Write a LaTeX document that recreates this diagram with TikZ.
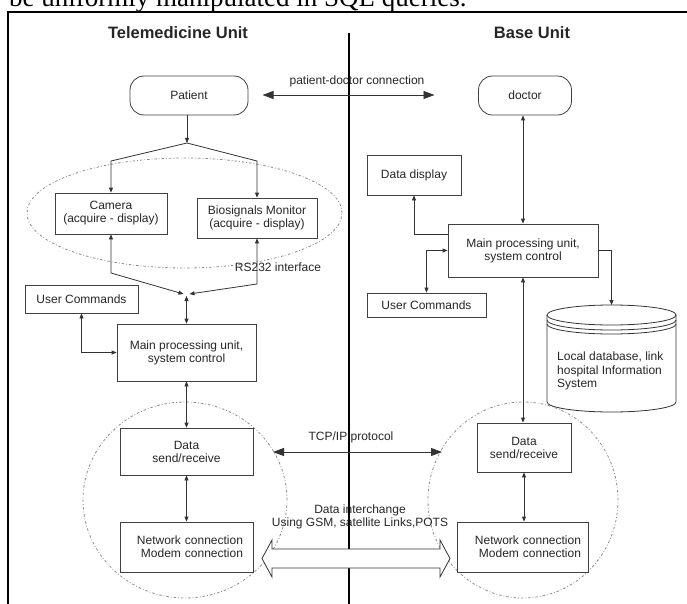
\documentclass[tikz,border=0pt]{standalone}
\usepackage{fontspec}
\setmainfont{Liberation Sans}
\newfontfamily\capfont{Liberation Serif}
\usetikzlibrary{arrows.meta,calc}
\begin{document}
\begin{tikzpicture}[x=1pt,y=-1pt,
  every node/.style={text=black!85},
  box/.style={draw=black!75, line width=0.8pt, fill=white, align=center, inner sep=2pt, font=\fontsize{12}{13}\selectfont},
  pill/.style={box, rounded corners=14pt},
  netbox/.style={box, align=right},
  lab/.style={font=\fontsize{12}{13}\selectfont, align=center, inner sep=1pt},
  ttl/.style={font=\fontsize{16.5}{18}\selectfont\bfseries, inner sep=1pt},
  conn/.style={draw=black!80, line width=0.8pt},
  ar/.style={conn, -{Triangle[length=5pt,width=4pt]}},
  bar/.style={conn, {Triangle[length=5pt,width=4pt]}-{Triangle[length=5pt,width=4pt]}},
  bigbar/.style={conn, {Triangle[length=11pt,width=8pt]}-{Triangle[length=11pt,width=8pt]}},
  dotline/.style={draw=black!45, line width=0.8pt, dash pattern=on 2.5pt off 2pt on 0.8pt off 2pt},
]
\useasboundingbox (0,0) rectangle (687,604);

% frame and caption fragment
\node[anchor=base west, inner sep=0, font=\capfont\fontsize{27}{30}\selectfont, text=black] (cap) at (9,7) {be uniformly manipulated in SQL queries.};
\draw[line width=1.8pt] (720,12) -- (8,12) -- (8,640);

% divider
\draw[line width=1.6pt] (349,33) -- (349,640);

% titles
\node[ttl] (t1) at (178,33) {Telemedicine Unit};
\node[ttl] (t2) at (532,33) {Base Unit};

% dotted groupings
\draw[dotline] (184.5,213) ellipse [x radius=157.5pt, y radius=55pt];
\draw[dotline] (185,500) ellipse [x radius=102pt, y radius=98pt];
\draw[dotline] (523,500) ellipse [x radius=95pt, y radius=98pt];

% nodes, left
\node[pill, minimum width=118pt, minimum height=39pt] (patient) at (189,95.5) {Patient};
\node[box, minimum width=112pt, minimum height=41pt] (camera) at (111,213.5) {Camera\\(acquire - display)};
\node[box, minimum width=120pt, minimum height=40pt] (bio) at (257,218) {Biosignals Monitor\\(acquire - display)};
\node[box, minimum width=113pt, minimum height=28pt] (uc1) at (81.5,299) {User Commands};
\node[box, minimum width=139pt, minimum height=57pt] (lmain) at (186.5,352.5) {Main processing unit,\\system control};
\node[box, minimum width=133pt, minimum height=47pt] (ldata) at (186.5,451.5) {Data\\send/receive};
\node[netbox, text width=113pt, inner xsep=10pt, minimum height=50pt] (lnet) at (186.5,547) {Network connection\\Modem connection};

% nodes, right
\node[pill, minimum width=93pt, minimum height=39pt] (doctor) at (525,95.5) {doctor};
\node[box, minimum width=94pt, minimum height=40pt] (display) at (414,175) {Data display};
\node[box, minimum width=150pt, minimum height=53pt] (rmain) at (523,250.5) {Main processing unit,\\system control};
\node[box, minimum width=119pt, minimum height=24pt] (uc2) at (426.5,305) {User Commands};
\node[box, minimum width=94pt, minimum height=49pt] (rdata) at (524,447.5) {Data\\send/receive};
\node[netbox, text width=117pt, inner xsep=7pt, minimum height=50pt] (rnet) at (522.5,547) {Network connection\\Modem connection};

% database cylinder
\draw[conn, fill=white] (547,315) -- (547,402) arc[start angle=180, end angle=360, x radius=64.5pt, y radius=10pt] -- (676,315);
\draw[conn] (611.5,315) ellipse [x radius=64.5pt, y radius=10pt];
\draw[conn] (547,320) arc[start angle=180, end angle=360, x radius=64.5pt, y radius=10pt];
\draw[conn] (547,324) arc[start angle=180, end angle=360, x radius=64.5pt, y radius=10pt];
\node[lab, align=left, anchor=north west, font=\fontsize{12}{13.5}\selectfont] (dbtext) at (556,351) {Local database, link\\hospital Information\\System};
\coordinate (dbtop) at (611.5,305);

% labels
\node[lab] (pdl) at (357,81) {patient-doctor connection};
\node[lab] (rs) at (278,267) {RS232 interface};
\node[lab] (tcpl) at (351,437) {TCP/IP protocol};
\node[lab] (dil) at (360,516.5) {Data interchange\\Using GSM, satellite Links,POTS};

% connectors, top
\coordinate (pd1) at (262.5,95);
\coordinate (pd2) at (434.5,95);
\draw[bigbar] (pd1) -- (pd2);

\coordinate (j1) at (187,143);
\coordinate (j2) at (186.5,294);
\draw[ar] (patient.south -| j1) -- (j1);
\draw[ar] (j1) -- (camera.north |- 0,161) -- (camera.north);
\draw[ar] (j1) -- (bio.north |- 0,161) -- (bio.north);
\draw[bar] (camera.south) -- (camera.south |- 0,273) -- ([xshift=-3pt]j2);
\draw[bar] (bio.south) -- (bio.south |- 0,284) -- ([xshift=3pt]j2);
\draw[bar] ([yshift=-2pt]j2) -- (lmain.north);
\draw[bar] (uc1.south) |- (lmain.west);
\draw[bar] (lmain.south) -- (ldata.north);
\draw[bar] (ldata.south) -- (lnet.north);

% TCP/IP
\coordinate (tcp1) at (273,452);
\coordinate (tcp2) at (442,452);
\draw[bigbar] (tcp1) -- (tcp2);

% right connectors
\draw[bar] (rmain.north |- doctor.south) -- (rmain.north);
\draw[ar] ([yshift=16.5pt]rmain.west) -| (display.south);
\draw[bar] (rmain.west) -| (uc2.north);
\draw[ar] (rmain.east) -| (dbtop);
\draw[bar] (rmain.south) -- (rmain.south |- rdata.north);
\draw[bar] (rdata.south) -- (rdata.south |- rnet.north);

% hollow double arrow
\draw[conn, fill=white, line join=miter] (262,558.5) -- (272,540) -- (272,549) -- (440,549) -- (440,540) -- (450,558.5) -- (440,577) -- (440,568) -- (272,568) -- (272,577) -- cycle;
\end{tikzpicture}
\end{document}
